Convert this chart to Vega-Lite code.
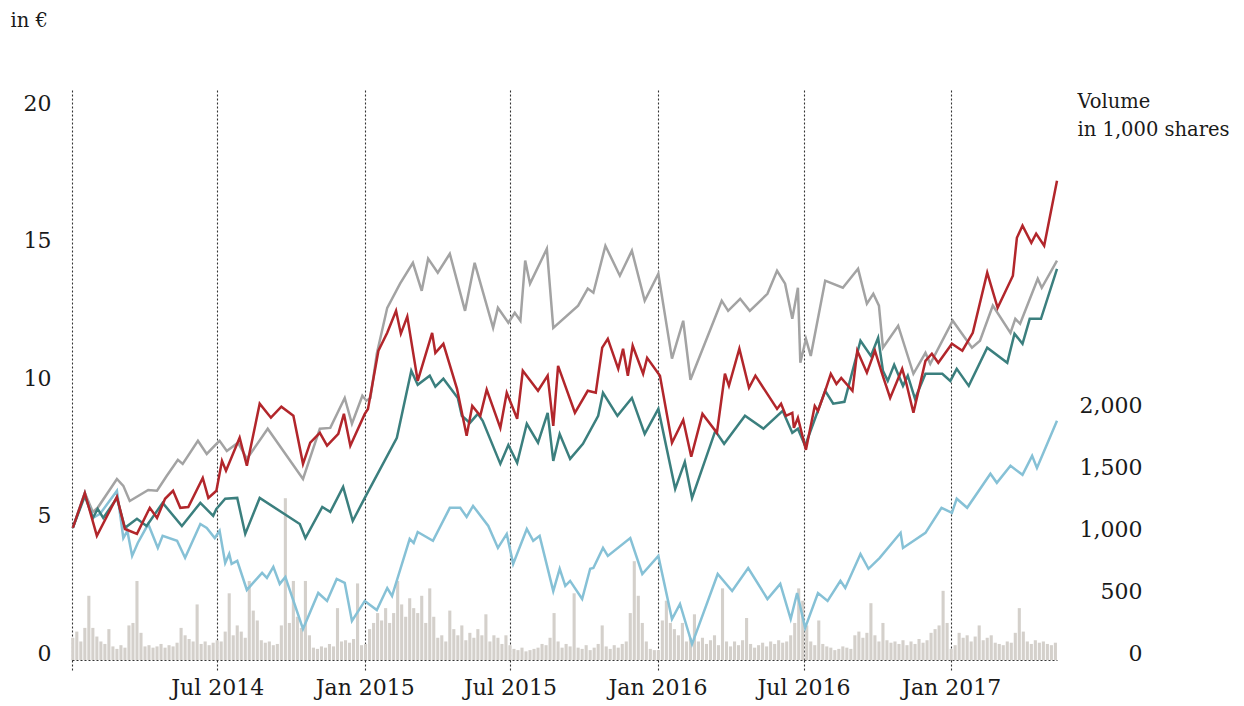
{
"$schema":"https://vega.github.io/schema/vega-lite/v6.json",
"width":985,"height":570,
"autosize":{"type":"none"},
"padding":{"left":72,"top":90,"right":187,"bottom":46},
"background":"white",
"config":{"view":{"stroke":null},"axis":{"labelFont":"DejaVu Serif","titleFont":"DejaVu Serif","labelColor":"#1a1a1a","titleColor":"#1a1a1a","titleFontWeight":"normal","labelFontSize":22,"titleFontSize":19.5}},
"datasets":{
"vol":[
{"d":"2014-01-02","v":180},{"d":"2014-01-07","v":230},{"d":"2014-01-12","v":150},{"d":"2014-01-17","v":260},{"d":"2014-01-22","v":520},{"d":"2014-01-27","v":260},{"d":"2014-02-01","v":190},{"d":"2014-02-06","v":150},{"d":"2014-02-11","v":130},{"d":"2014-02-16","v":250},{"d":"2014-02-21","v":110},{"d":"2014-02-26","v":90},{"d":"2014-03-03","v":120},{"d":"2014-03-08","v":100},{"d":"2014-03-13","v":280},{"d":"2014-03-18","v":300},{"d":"2014-03-23","v":640},{"d":"2014-03-28","v":220},{"d":"2014-04-02","v":110},{"d":"2014-04-07","v":120},{"d":"2014-04-12","v":100},{"d":"2014-04-17","v":110},{"d":"2014-04-22","v":130},{"d":"2014-04-27","v":100},{"d":"2014-05-02","v":120},{"d":"2014-05-07","v":110},{"d":"2014-05-12","v":140},{"d":"2014-05-17","v":260},{"d":"2014-05-22","v":200},{"d":"2014-05-27","v":170},{"d":"2014-06-01","v":150},{"d":"2014-06-06","v":450},{"d":"2014-06-11","v":130},{"d":"2014-06-16","v":150},{"d":"2014-06-21","v":120},{"d":"2014-06-26","v":140},{"d":"2014-07-01","v":160},{"d":"2014-07-06","v":150},{"d":"2014-07-11","v":230},{"d":"2014-07-16","v":540},{"d":"2014-07-21","v":200},{"d":"2014-07-26","v":280},{"d":"2014-07-31","v":230},{"d":"2014-08-05","v":180},{"d":"2014-08-10","v":640},{"d":"2014-08-15","v":400},{"d":"2014-08-20","v":320},{"d":"2014-08-25","v":160},{"d":"2014-08-30","v":140},{"d":"2014-09-04","v":150},{"d":"2014-09-09","v":120},{"d":"2014-09-14","v":130},{"d":"2014-09-19","v":280},{"d":"2014-09-24","v":1310},{"d":"2014-09-29","v":300},{"d":"2014-10-04","v":640},{"d":"2014-10-09","v":350},{"d":"2014-10-14","v":260},{"d":"2014-10-19","v":640},{"d":"2014-10-24","v":200},{"d":"2014-10-29","v":100},{"d":"2014-11-03","v":90},{"d":"2014-11-08","v":110},{"d":"2014-11-13","v":100},{"d":"2014-11-18","v":130},{"d":"2014-11-23","v":110},{"d":"2014-11-28","v":420},{"d":"2014-12-03","v":150},{"d":"2014-12-08","v":160},{"d":"2014-12-13","v":140},{"d":"2014-12-18","v":170},{"d":"2014-12-23","v":620},{"d":"2014-12-28","v":120},
{"d":"2015-01-02","v":130},{"d":"2015-01-07","v":250},{"d":"2015-01-12","v":300},{"d":"2015-01-17","v":380},{"d":"2015-01-22","v":320},{"d":"2015-01-27","v":420},{"d":"2015-02-01","v":300},{"d":"2015-02-06","v":380},{"d":"2015-02-11","v":640},{"d":"2015-02-16","v":450},{"d":"2015-02-21","v":350},{"d":"2015-02-26","v":500},{"d":"2015-03-03","v":420},{"d":"2015-03-08","v":380},{"d":"2015-03-13","v":520},{"d":"2015-03-18","v":300},{"d":"2015-03-23","v":580},{"d":"2015-03-28","v":350},{"d":"2015-04-02","v":180},{"d":"2015-04-07","v":200},{"d":"2015-04-12","v":150},{"d":"2015-04-17","v":400},{"d":"2015-04-22","v":250},{"d":"2015-04-27","v":200},{"d":"2015-05-02","v":280},{"d":"2015-05-07","v":160},{"d":"2015-05-12","v":220},{"d":"2015-05-17","v":180},{"d":"2015-05-22","v":250},{"d":"2015-05-27","v":200},{"d":"2015-06-01","v":370},{"d":"2015-06-06","v":150},{"d":"2015-06-11","v":200},{"d":"2015-06-16","v":180},{"d":"2015-06-21","v":130},{"d":"2015-06-26","v":200},{"d":"2015-07-01","v":120},{"d":"2015-07-06","v":90},{"d":"2015-07-11","v":80},{"d":"2015-07-16","v":100},{"d":"2015-07-21","v":70},{"d":"2015-07-26","v":80},{"d":"2015-07-31","v":90},{"d":"2015-08-05","v":100},{"d":"2015-08-10","v":130},{"d":"2015-08-15","v":120},{"d":"2015-08-20","v":180},{"d":"2015-08-25","v":380},{"d":"2015-08-30","v":150},{"d":"2015-09-04","v":100},{"d":"2015-09-09","v":130},{"d":"2015-09-14","v":110},{"d":"2015-09-19","v":540},{"d":"2015-09-24","v":100},{"d":"2015-09-29","v":90},{"d":"2015-10-04","v":120},{"d":"2015-10-09","v":80},{"d":"2015-10-14","v":100},{"d":"2015-10-19","v":130},{"d":"2015-10-24","v":280},{"d":"2015-10-29","v":110},{"d":"2015-11-03","v":90},{"d":"2015-11-08","v":120},{"d":"2015-11-13","v":100},{"d":"2015-11-18","v":130},{"d":"2015-11-23","v":150},{"d":"2015-11-28","v":380},{"d":"2015-12-03","v":800},{"d":"2015-12-08","v":520},{"d":"2015-12-13","v":300},{"d":"2015-12-18","v":150},{"d":"2015-12-23","v":90},{"d":"2015-12-28","v":80},
{"d":"2016-01-02","v":80},{"d":"2016-01-07","v":320},{"d":"2016-01-12","v":480},{"d":"2016-01-17","v":300},{"d":"2016-01-22","v":250},{"d":"2016-01-27","v":200},{"d":"2016-02-01","v":300},{"d":"2016-02-06","v":150},{"d":"2016-02-11","v":180},{"d":"2016-02-16","v":370},{"d":"2016-02-21","v":150},{"d":"2016-02-26","v":180},{"d":"2016-03-02","v":130},{"d":"2016-03-07","v":160},{"d":"2016-03-12","v":200},{"d":"2016-03-17","v":120},{"d":"2016-03-22","v":580},{"d":"2016-03-27","v":150},{"d":"2016-04-01","v":110},{"d":"2016-04-06","v":150},{"d":"2016-04-11","v":120},{"d":"2016-04-16","v":160},{"d":"2016-04-21","v":340},{"d":"2016-04-26","v":130},{"d":"2016-05-01","v":100},{"d":"2016-05-06","v":120},{"d":"2016-05-11","v":140},{"d":"2016-05-16","v":110},{"d":"2016-05-21","v":150},{"d":"2016-05-26","v":130},{"d":"2016-05-31","v":160},{"d":"2016-06-05","v":140},{"d":"2016-06-10","v":150},{"d":"2016-06-15","v":200},{"d":"2016-06-20","v":300},{"d":"2016-06-25","v":580},{"d":"2016-06-30","v":480},{"d":"2016-07-05","v":280},{"d":"2016-07-10","v":150},{"d":"2016-07-15","v":120},{"d":"2016-07-20","v":320},{"d":"2016-07-25","v":130},{"d":"2016-07-30","v":110},{"d":"2016-08-04","v":100},{"d":"2016-08-09","v":80},{"d":"2016-08-14","v":90},{"d":"2016-08-19","v":110},{"d":"2016-08-24","v":100},{"d":"2016-08-29","v":90},{"d":"2016-09-03","v":200},{"d":"2016-09-08","v":230},{"d":"2016-09-13","v":180},{"d":"2016-09-18","v":220},{"d":"2016-09-23","v":460},{"d":"2016-09-28","v":200},{"d":"2016-10-03","v":150},{"d":"2016-10-08","v":300},{"d":"2016-10-13","v":160},{"d":"2016-10-18","v":140},{"d":"2016-10-23","v":150},{"d":"2016-10-28","v":130},{"d":"2016-11-02","v":160},{"d":"2016-11-07","v":120},{"d":"2016-11-12","v":150},{"d":"2016-11-17","v":130},{"d":"2016-11-22","v":170},{"d":"2016-11-27","v":140},{"d":"2016-12-02","v":160},{"d":"2016-12-07","v":220},{"d":"2016-12-12","v":250},{"d":"2016-12-17","v":280},{"d":"2016-12-22","v":560},{"d":"2016-12-27","v":300},
{"d":"2017-01-01","v":90},{"d":"2017-01-06","v":120},{"d":"2017-01-11","v":220},{"d":"2017-01-16","v":180},{"d":"2017-01-21","v":200},{"d":"2017-01-26","v":150},{"d":"2017-01-31","v":190},{"d":"2017-02-05","v":280},{"d":"2017-02-10","v":160},{"d":"2017-02-15","v":180},{"d":"2017-02-20","v":200},{"d":"2017-02-25","v":140},{"d":"2017-03-02","v":130},{"d":"2017-03-07","v":120},{"d":"2017-03-12","v":150},{"d":"2017-03-17","v":140},{"d":"2017-03-22","v":220},{"d":"2017-03-27","v":420},{"d":"2017-04-01","v":230},{"d":"2017-04-06","v":150},{"d":"2017-04-11","v":130},{"d":"2017-04-16","v":160},{"d":"2017-04-21","v":140},{"d":"2017-04-26","v":150},{"d":"2017-05-01","v":130},{"d":"2017-05-06","v":120},{"d":"2017-05-11","v":140}
],
"px":[
{"s":"grey","d":"2014-01-02","v":4.81},{"s":"grey","d":"2014-01-17","v":6.08},{"s":"grey","d":"2014-01-27","v":5.39},{"s":"grey","d":"2014-02-02","v":5.54},{"s":"grey","d":"2014-02-26","v":6.59},{"s":"grey","d":"2014-03-06","v":6.34},{"s":"grey","d":"2014-03-14","v":5.79},{"s":"grey","d":"2014-04-06","v":6.19},{"s":"grey","d":"2014-04-17","v":6.16},{"s":"grey","d":"2014-04-29","v":6.70},{"s":"grey","d":"2014-05-13","v":7.29},{"s":"grey","d":"2014-05-19","v":7.14},{"s":"grey","d":"2014-06-07","v":7.98},{"s":"grey","d":"2014-06-18","v":7.50},{"s":"grey","d":"2014-06-30","v":7.87},{"s":"grey","d":"2014-07-04","v":7.98},{"s":"grey","d":"2014-07-13","v":7.61},{"s":"grey","d":"2014-07-27","v":7.91},{"s":"grey","d":"2014-08-07","v":7.32},{"s":"grey","d":"2014-09-02","v":8.42},{"s":"grey","d":"2014-10-16","v":6.59},{"s":"grey","d":"2014-11-06","v":8.42},{"s":"grey","d":"2014-11-19","v":8.45},{"s":"grey","d":"2014-12-07","v":9.54},{"s":"grey","d":"2014-12-16","v":8.60},{"s":"grey","d":"2014-12-29","v":9.62},{"s":"grey","d":"2015-01-03","v":9.44},{"s":"grey","d":"2015-01-08","v":9.54},{"s":"grey","d":"2015-01-16","v":11.15},{"s":"grey","d":"2015-01-29","v":12.82},{"s":"grey","d":"2015-02-14","v":13.70},{"s":"grey","d":"2015-03-02","v":14.46},{"s":"grey","d":"2015-03-13","v":13.44},{"s":"grey","d":"2015-03-21","v":14.61},{"s":"grey","d":"2015-04-02","v":14.10},{"s":"grey","d":"2015-04-17","v":14.79},{"s":"grey","d":"2015-05-06","v":12.71},{"s":"grey","d":"2015-05-18","v":14.46},{"s":"grey","d":"2015-06-10","v":12.09},{"s":"grey","d":"2015-06-16","v":12.82},{"s":"grey","d":"2015-06-29","v":12.28},{"s":"grey","d":"2015-07-07","v":12.64},{"s":"grey","d":"2015-07-14","v":12.35},{"s":"grey","d":"2015-07-20","v":14.54},{"s":"grey","d":"2015-07-26","v":13.70},{"s":"grey","d":"2015-08-16","v":14.97},{"s":"grey","d":"2015-08-24","v":12.09},{"s":"grey","d":"2015-09-24","v":12.90},{"s":"grey","d":"2015-10-06","v":13.52},{"s":"grey","d":"2015-10-13","v":13.37},{"s":"grey","d":"2015-10-28","v":15.08},{"s":"grey","d":"2015-11-15","v":13.99},{"s":"grey","d":"2015-11-30","v":14.90},{"s":"grey","d":"2015-12-16","v":13.08},{"s":"grey","d":"2016-01-02","v":14.06},{"s":"grey","d":"2016-01-19","v":10.97},{"s":"grey","d":"2016-02-02","v":12.35},{"s":"grey","d":"2016-02-11","v":10.20},{"s":"grey","d":"2016-03-21","v":13.08},{"s":"grey","d":"2016-03-29","v":12.71},{"s":"grey","d":"2016-04-13","v":13.15},{"s":"grey","d":"2016-04-25","v":12.71},{"s":"grey","d":"2016-05-17","v":13.33},{"s":"grey","d":"2016-05-29","v":14.17},{"s":"grey","d":"2016-06-08","v":13.70},{"s":"grey","d":"2016-06-17","v":12.42},{"s":"grey","d":"2016-06-24","v":13.55},{"s":"grey","d":"2016-06-27","v":10.82},{"s":"grey","d":"2016-07-04","v":11.69},{"s":"grey","d":"2016-07-10","v":11.07},{"s":"grey","d":"2016-07-28","v":13.81},{"s":"grey","d":"2016-08-19","v":13.55},{"s":"grey","d":"2016-09-07","v":14.24},{"s":"grey","d":"2016-09-18","v":12.97},{"s":"grey","d":"2016-09-26","v":13.33},{"s":"grey","d":"2016-10-03","v":12.90},{"s":"grey","d":"2016-10-08","v":11.37},{"s":"grey","d":"2016-10-27","v":12.17},{"s":"grey","d":"2016-11-15","v":10.42},{"s":"grey","d":"2016-11-30","v":11.18},{"s":"grey","d":"2016-12-06","v":10.78},{"s":"grey","d":"2017-01-03","v":12.35},{"s":"grey","d":"2017-01-27","v":11.37},{"s":"grey","d":"2017-02-06","v":11.62},{"s":"grey","d":"2017-02-22","v":12.90},{"s":"grey","d":"2017-03-16","v":11.91},{"s":"grey","d":"2017-03-22","v":12.42},{"s":"grey","d":"2017-03-28","v":12.24},{"s":"grey","d":"2017-04-19","v":13.88},{"s":"grey","d":"2017-04-24","v":13.55},{"s":"grey","d":"2017-05-13","v":14.54},
{"s":"blue","d":"2014-01-02","v":4.81},{"s":"blue","d":"2014-01-17","v":6.08},{"s":"blue","d":"2014-01-27","v":5.17},{"s":"blue","d":"2014-02-05","v":5.32},{"s":"blue","d":"2014-02-26","v":6.16},{"s":"blue","d":"2014-03-06","v":4.44},{"s":"blue","d":"2014-03-11","v":4.70},{"s":"blue","d":"2014-03-17","v":3.79},{"s":"blue","d":"2014-03-24","v":4.26},{"s":"blue","d":"2014-04-06","v":4.95},{"s":"blue","d":"2014-04-18","v":4.08},{"s":"blue","d":"2014-04-24","v":4.52},{"s":"blue","d":"2014-05-12","v":4.34},{"s":"blue","d":"2014-05-22","v":3.72},{"s":"blue","d":"2014-06-10","v":4.95},{"s":"blue","d":"2014-06-18","v":4.81},{"s":"blue","d":"2014-06-28","v":4.44},{"s":"blue","d":"2014-07-04","v":4.70},{"s":"blue","d":"2014-07-11","v":3.53},{"s":"blue","d":"2014-07-16","v":3.86},{"s":"blue","d":"2014-07-19","v":3.50},{"s":"blue","d":"2014-07-26","v":3.61},{"s":"blue","d":"2014-08-07","v":2.55},{"s":"blue","d":"2014-08-26","v":3.17},{"s":"blue","d":"2014-09-01","v":2.99},{"s":"blue","d":"2014-09-09","v":3.39},{"s":"blue","d":"2014-09-17","v":2.77},{"s":"blue","d":"2014-09-24","v":3.02},{"s":"blue","d":"2014-10-16","v":1.13},{"s":"blue","d":"2014-11-04","v":2.44},{"s":"blue","d":"2014-11-15","v":2.15},{"s":"blue","d":"2014-11-27","v":2.95},{"s":"blue","d":"2014-12-07","v":2.81},{"s":"blue","d":"2014-12-16","v":1.42},{"s":"blue","d":"2015-01-01","v":2.15},{"s":"blue","d":"2015-01-16","v":1.82},{"s":"blue","d":"2015-01-29","v":2.62},{"s":"blue","d":"2015-02-04","v":2.33},{"s":"blue","d":"2015-02-26","v":4.41},{"s":"blue","d":"2015-03-03","v":4.26},{"s":"blue","d":"2015-03-08","v":4.66},{"s":"blue","d":"2015-03-27","v":4.34},{"s":"blue","d":"2015-04-17","v":5.54},{"s":"blue","d":"2015-04-30","v":5.54},{"s":"blue","d":"2015-05-08","v":5.21},{"s":"blue","d":"2015-05-16","v":5.61},{"s":"blue","d":"2015-06-04","v":4.88},{"s":"blue","d":"2015-06-16","v":4.08},{"s":"blue","d":"2015-06-27","v":4.59},{"s":"blue","d":"2015-07-05","v":3.50},{"s":"blue","d":"2015-07-22","v":4.77},{"s":"blue","d":"2015-07-30","v":4.34},{"s":"blue","d":"2015-08-07","v":4.52},{"s":"blue","d":"2015-08-24","v":2.51},{"s":"blue","d":"2015-09-01","v":3.32},{"s":"blue","d":"2015-09-08","v":2.70},{"s":"blue","d":"2015-09-14","v":2.88},{"s":"blue","d":"2015-09-29","v":2.22},{"s":"blue","d":"2015-10-09","v":3.32},{"s":"blue","d":"2015-10-13","v":3.35},{"s":"blue","d":"2015-10-25","v":4.08},{"s":"blue","d":"2015-10-31","v":3.79},{"s":"blue","d":"2015-11-28","v":4.44},{"s":"blue","d":"2015-12-13","v":3.13},{"s":"blue","d":"2016-01-02","v":3.79},{"s":"blue","d":"2016-01-19","v":1.49},{"s":"blue","d":"2016-01-29","v":2.04},{"s":"blue","d":"2016-02-13","v":0.58},{"s":"blue","d":"2016-03-16","v":3.13},{"s":"blue","d":"2016-04-03","v":2.51},{"s":"blue","d":"2016-04-23","v":3.35},{"s":"blue","d":"2016-05-17","v":2.22},{"s":"blue","d":"2016-06-02","v":2.77},{"s":"blue","d":"2016-06-15","v":1.49},{"s":"blue","d":"2016-06-23","v":2.44},{"s":"blue","d":"2016-07-03","v":1.17},{"s":"blue","d":"2016-07-19","v":2.44},{"s":"blue","d":"2016-07-31","v":2.15},{"s":"blue","d":"2016-08-16","v":2.88},{"s":"blue","d":"2016-08-22","v":2.62},{"s":"blue","d":"2016-09-10","v":3.86},{"s":"blue","d":"2016-09-20","v":3.32},{"s":"blue","d":"2016-10-04","v":3.72},{"s":"blue","d":"2016-10-30","v":4.63},{"s":"blue","d":"2016-11-02","v":4.08},{"s":"blue","d":"2016-11-30","v":4.63},{"s":"blue","d":"2016-12-20","v":5.54},{"s":"blue","d":"2017-01-02","v":5.36},{"s":"blue","d":"2017-01-08","v":5.87},{"s":"blue","d":"2017-01-21","v":5.54},{"s":"blue","d":"2017-02-19","v":6.78},{"s":"blue","d":"2017-02-27","v":6.45},{"s":"blue","d":"2017-03-16","v":7.07},{"s":"blue","d":"2017-03-31","v":6.74},{"s":"blue","d":"2017-04-12","v":7.43},{"s":"blue","d":"2017-04-18","v":6.99},{"s":"blue","d":"2017-05-13","v":8.71},
{"s":"teal","d":"2014-01-02","v":4.81},{"s":"teal","d":"2014-01-17","v":5.97},{"s":"teal","d":"2014-01-27","v":5.17},{"s":"teal","d":"2014-02-02","v":5.50},{"s":"teal","d":"2014-02-09","v":5.17},{"s":"teal","d":"2014-02-26","v":5.90},{"s":"teal","d":"2014-03-08","v":4.81},{"s":"teal","d":"2014-03-23","v":5.14},{"s":"teal","d":"2014-04-04","v":4.88},{"s":"teal","d":"2014-04-24","v":5.72},{"s":"teal","d":"2014-05-18","v":4.88},{"s":"teal","d":"2014-06-10","v":5.72},{"s":"teal","d":"2014-06-26","v":5.25},{"s":"teal","d":"2014-06-30","v":5.50},{"s":"teal","d":"2014-07-11","v":5.87},{"s":"teal","d":"2014-07-26","v":5.90},{"s":"teal","d":"2014-08-05","v":4.59},{"s":"teal","d":"2014-08-23","v":5.90},{"s":"teal","d":"2014-10-12","v":4.95},{"s":"teal","d":"2014-10-19","v":4.44},{"s":"teal","d":"2014-11-09","v":5.57},{"s":"teal","d":"2014-11-19","v":5.39},{"s":"teal","d":"2014-12-05","v":6.30},{"s":"teal","d":"2014-12-17","v":5.06},{"s":"teal","d":"2015-01-01","v":5.90},{"s":"teal","d":"2015-02-10","v":8.09},{"s":"teal","d":"2015-02-28","v":10.53},{"s":"teal","d":"2015-03-08","v":10.02},{"s":"teal","d":"2015-03-23","v":10.35},{"s":"teal","d":"2015-03-30","v":9.95},{"s":"teal","d":"2015-04-09","v":10.24},{"s":"teal","d":"2015-04-27","v":9.54},{"s":"teal","d":"2015-05-02","v":8.89},{"s":"teal","d":"2015-05-12","v":8.63},{"s":"teal","d":"2015-05-22","v":8.96},{"s":"teal","d":"2015-05-28","v":8.71},{"s":"teal","d":"2015-06-19","v":7.14},{"s":"teal","d":"2015-06-29","v":7.83},{"s":"teal","d":"2015-07-10","v":7.18},{"s":"teal","d":"2015-07-22","v":8.60},{"s":"teal","d":"2015-08-05","v":7.91},{"s":"teal","d":"2015-08-17","v":9.00},{"s":"teal","d":"2015-08-24","v":7.25},{"s":"teal","d":"2015-09-01","v":8.23},{"s":"teal","d":"2015-09-14","v":7.32},{"s":"teal","d":"2015-09-30","v":7.87},{"s":"teal","d":"2015-10-19","v":8.89},{"s":"teal","d":"2015-10-25","v":9.73},{"s":"teal","d":"2015-11-12","v":8.89},{"s":"teal","d":"2015-11-30","v":9.54},{"s":"teal","d":"2015-12-16","v":8.23},{"s":"teal","d":"2016-01-02","v":9.14},{"s":"teal","d":"2016-01-23","v":6.23},{"s":"teal","d":"2016-02-04","v":7.21},{"s":"teal","d":"2016-02-13","v":5.90},{"s":"teal","d":"2016-03-13","v":8.34},{"s":"teal","d":"2016-03-24","v":7.87},{"s":"teal","d":"2016-04-19","v":8.89},{"s":"teal","d":"2016-05-12","v":8.42},{"s":"teal","d":"2016-06-05","v":9.07},{"s":"teal","d":"2016-06-17","v":8.27},{"s":"teal","d":"2016-06-24","v":8.42},{"s":"teal","d":"2016-07-03","v":7.80},{"s":"teal","d":"2016-07-28","v":9.80},{"s":"teal","d":"2016-08-07","v":9.33},{"s":"teal","d":"2016-08-21","v":9.40},{"s":"teal","d":"2016-09-10","v":11.62},{"s":"teal","d":"2016-09-23","v":11.07},{"s":"teal","d":"2016-10-02","v":11.73},{"s":"teal","d":"2016-10-08","v":10.53},{"s":"teal","d":"2016-10-14","v":10.16},{"s":"teal","d":"2016-10-22","v":10.75},{"s":"teal","d":"2016-11-02","v":9.98},{"s":"teal","d":"2016-11-08","v":10.35},{"s":"teal","d":"2016-11-17","v":9.51},{"s":"teal","d":"2016-11-30","v":10.42},{"s":"teal","d":"2016-12-21","v":10.42},{"s":"teal","d":"2016-12-31","v":10.16},{"s":"teal","d":"2017-01-08","v":10.60},{"s":"teal","d":"2017-01-23","v":9.98},{"s":"teal","d":"2017-02-15","v":11.37},{"s":"teal","d":"2017-03-12","v":10.82},{"s":"teal","d":"2017-03-21","v":11.88},{"s":"teal","d":"2017-03-31","v":11.51},{"s":"teal","d":"2017-04-09","v":12.42},{"s":"teal","d":"2017-04-23","v":12.42},{"s":"teal","d":"2017-05-13","v":14.24},
{"s":"red","d":"2014-01-02","v":4.81},{"s":"red","d":"2014-01-17","v":6.08},{"s":"red","d":"2014-02-01","v":4.52},{"s":"red","d":"2014-02-26","v":5.94},{"s":"red","d":"2014-03-08","v":4.77},{"s":"red","d":"2014-03-23","v":4.59},{"s":"red","d":"2014-04-08","v":5.54},{"s":"red","d":"2014-04-17","v":5.17},{"s":"red","d":"2014-04-27","v":5.87},{"s":"red","d":"2014-05-07","v":6.16},{"s":"red","d":"2014-05-16","v":5.54},{"s":"red","d":"2014-05-26","v":5.57},{"s":"red","d":"2014-06-13","v":6.63},{"s":"red","d":"2014-06-20","v":5.90},{"s":"red","d":"2014-06-30","v":6.16},{"s":"red","d":"2014-07-07","v":7.25},{"s":"red","d":"2014-07-12","v":6.89},{"s":"red","d":"2014-07-29","v":8.09},{"s":"red","d":"2014-08-07","v":7.07},{"s":"red","d":"2014-08-23","v":9.33},{"s":"red","d":"2014-09-06","v":8.82},{"s":"red","d":"2014-09-19","v":9.22},{"s":"red","d":"2014-10-04","v":8.89},{"s":"red","d":"2014-10-16","v":7.14},{"s":"red","d":"2014-10-25","v":7.91},{"s":"red","d":"2014-11-06","v":8.27},{"s":"red","d":"2014-11-15","v":7.80},{"s":"red","d":"2014-11-29","v":8.23},{"s":"red","d":"2014-12-06","v":8.96},{"s":"red","d":"2014-12-14","v":7.80},{"s":"red","d":"2015-01-01","v":8.96},{"s":"red","d":"2015-01-05","v":9.14},{"s":"red","d":"2015-01-18","v":11.26},{"s":"red","d":"2015-01-29","v":11.91},{"s":"red","d":"2015-02-09","v":12.71},{"s":"red","d":"2015-02-15","v":11.88},{"s":"red","d":"2015-02-23","v":12.50},{"s":"red","d":"2015-03-08","v":10.16},{"s":"red","d":"2015-03-26","v":11.91},{"s":"red","d":"2015-03-30","v":11.18},{"s":"red","d":"2015-04-09","v":11.51},{"s":"red","d":"2015-04-26","v":9.87},{"s":"red","d":"2015-05-08","v":8.16},{"s":"red","d":"2015-05-15","v":9.25},{"s":"red","d":"2015-05-25","v":8.89},{"s":"red","d":"2015-06-02","v":9.84},{"s":"red","d":"2015-06-19","v":8.45},{"s":"red","d":"2015-06-27","v":9.73},{"s":"red","d":"2015-07-10","v":8.78},{"s":"red","d":"2015-07-17","v":10.53},{"s":"red","d":"2015-08-05","v":9.80},{"s":"red","d":"2015-08-17","v":10.35},{"s":"red","d":"2015-08-24","v":8.52},{"s":"red","d":"2015-08-30","v":10.71},{"s":"red","d":"2015-09-20","v":9.00},{"s":"red","d":"2015-10-06","v":9.80},{"s":"red","d":"2015-10-16","v":9.73},{"s":"red","d":"2015-10-24","v":11.37},{"s":"red","d":"2015-10-31","v":11.69},{"s":"red","d":"2015-11-13","v":10.60},{"s":"red","d":"2015-11-19","v":11.33},{"s":"red","d":"2015-11-25","v":10.35},{"s":"red","d":"2015-12-01","v":11.44},{"s":"red","d":"2015-12-14","v":10.42},{"s":"red","d":"2015-12-19","v":11.00},{"s":"red","d":"2016-01-04","v":10.35},{"s":"red","d":"2016-01-19","v":7.91},{"s":"red","d":"2016-02-02","v":8.74},{"s":"red","d":"2016-02-12","v":7.40},{"s":"red","d":"2016-02-26","v":8.96},{"s":"red","d":"2016-03-15","v":8.27},{"s":"red","d":"2016-03-25","v":10.42},{"s":"red","d":"2016-03-30","v":9.98},{"s":"red","d":"2016-04-12","v":11.33},{"s":"red","d":"2016-04-24","v":9.91},{"s":"red","d":"2016-05-02","v":10.35},{"s":"red","d":"2016-05-29","v":9.14},{"s":"red","d":"2016-06-03","v":9.33},{"s":"red","d":"2016-06-09","v":8.89},{"s":"red","d":"2016-06-17","v":9.00},{"s":"red","d":"2016-06-19","v":8.45},{"s":"red","d":"2016-06-24","v":8.82},{"s":"red","d":"2016-07-04","v":7.65},{"s":"red","d":"2016-07-15","v":9.25},{"s":"red","d":"2016-07-19","v":9.07},{"s":"red","d":"2016-07-28","v":9.80},{"s":"red","d":"2016-08-04","v":10.42},{"s":"red","d":"2016-08-11","v":10.05},{"s":"red","d":"2016-08-17","v":10.27},{"s":"red","d":"2016-08-31","v":9.80},{"s":"red","d":"2016-09-06","v":11.26},{"s":"red","d":"2016-09-18","v":10.46},{"s":"red","d":"2016-09-28","v":11.26},{"s":"red","d":"2016-10-07","v":10.42},{"s":"red","d":"2016-10-17","v":9.54},{"s":"red","d":"2016-11-01","v":10.60},{"s":"red","d":"2016-11-06","v":10.09},{"s":"red","d":"2016-11-15","v":9.00},{"s":"red","d":"2016-11-30","v":10.89},{"s":"red","d":"2016-12-08","v":11.15},{"s":"red","d":"2016-12-16","v":10.82},{"s":"red","d":"2017-01-02","v":11.51},{"s":"red","d":"2017-01-15","v":11.26},{"s":"red","d":"2017-01-28","v":11.91},{"s":"red","d":"2017-02-15","v":14.10},{"s":"red","d":"2017-02-28","v":12.82},{"s":"red","d":"2017-03-19","v":13.99},{"s":"red","d":"2017-03-24","v":15.37},{"s":"red","d":"2017-03-31","v":15.81},{"s":"red","d":"2017-04-11","v":15.19},{"s":"red","d":"2017-04-17","v":15.52},{"s":"red","d":"2017-04-27","v":15.08},{"s":"red","d":"2017-05-13","v":17.45}
]},
"layer":[
{"data":{"name":"vol"},
 "mark":{"type":"bar","size":3.1,"color":"#d4d0cb"},
 "encoding":{
  "x":{"field":"d","type":"temporal",
   "scale":{"domain":[{"year":2014,"month":1,"date":1},{"year":2017,"month":5,"date":13}],"padding":0},
   "axis":{"title":null,"values":[{"year":2014,"month":1,"date":1},{"year":2014,"month":7,"date":1},{"year":2015,"month":1,"date":1},{"year":2015,"month":7,"date":1},{"year":2016,"month":1,"date":1},{"year":2016,"month":7,"date":1},{"year":2017,"month":1,"date":1}],
    "labelExpr":"datum.value < 1390000000000 ? '' : timeFormat(datum.value, '%b %Y')",
    "grid":true,"gridDash":[2,2],"gridColor":"#333","gridWidth":1.1,
    "ticks":true,"tickDash":[2,2],"tickSize":10,"tickColor":"#333","tickWidth":1.1,
    "domain":true,"domainDash":[2,2],"domainColor":"#333","domainWidth":1.1,
    "labelPadding":7,"labelFlush":false,"labelOverlap":false}},
  "y":{"field":"v","type":"quantitative","scale":{"domain":[0,4615],"nice":false,"zero":true},
   "axis":{"orient":"right","values":[0,500,1000,1500,2000],"format":",d","grid":false,"ticks":false,"tickSize":0,"domain":false,
    "labelAlign":"right","labelBaseline":"alphabetic","labelPadding":85,
    "title":["Volume","in 1,000 shares"],"titleAngle":0,"titleAlign":"left","titleBaseline":"alphabetic","titleX":20,"titleY":17,"titleLineHeight":28}}
 }},
{"data":{"name":"px"},
 "mark":{"type":"line","strokeWidth":2.5,"interpolate":"linear"},
 "encoding":{
  "x":{"field":"d","type":"temporal"},
  "y":{"field":"v","type":"quantitative","scale":{"domain":[0,20.75],"nice":false},
   "axis":{"orient":"left","values":[0,5,10,15,20],"grid":false,"ticks":false,"tickSize":0,"domain":false,
    "labelAlign":"right","labelBaseline":"alphabetic","labelPadding":21,
    "title":"in €","titleAngle":0,"titleAlign":"left","titleBaseline":"alphabetic","titleX":-62,"titleY":-64}},
  "color":{"field":"s","type":"nominal","sort":null,"scale":{"domain":["grey","blue","teal","red"],"range":["#a3a3a3","#86c1d6","#3b7f7e","#b2262b"]},"legend":null}
 }}
],
"resolve":{"scale":{"y":"independent"}}
}
